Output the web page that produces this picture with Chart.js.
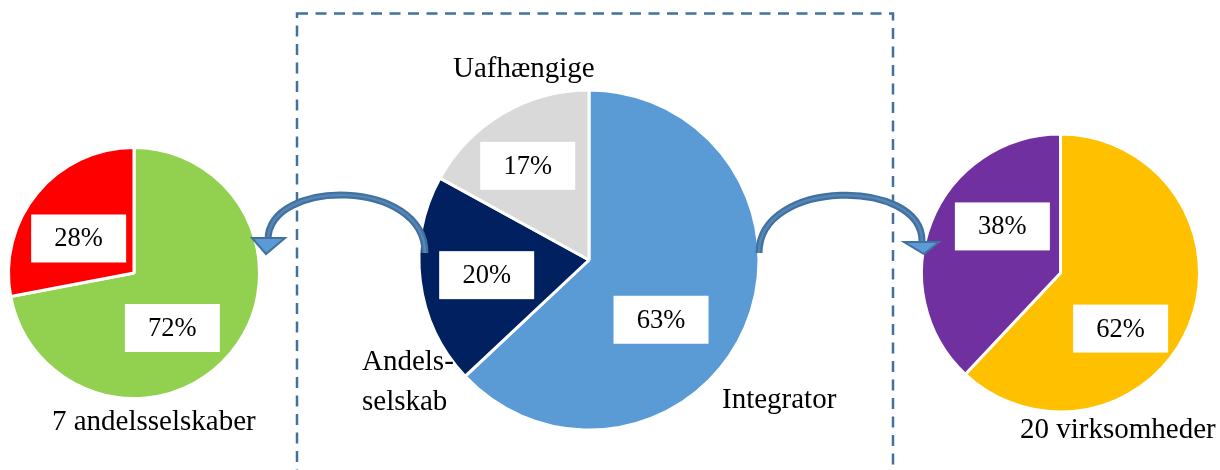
<!DOCTYPE html>
<html>
<head>
<meta charset="utf-8">
<script src="https://cdn.jsdelivr.net/npm/chart.js@4/dist/chart.umd.min.js"></script>
<style>
  html, body { margin: 0; padding: 0; background: #fff; }
  #wrap { position: relative; width: 1220px; height: 470px; overflow: hidden; }
  #wrap canvas { position: absolute; left: 0; top: 0; }
</style>
</head>
<body>
<div id="wrap">
  <canvas id="pie_left" width="1220" height="470"></canvas>
  <canvas id="pie_right" width="1220" height="470"></canvas>
  <canvas id="pie_mid" width="1220" height="470"></canvas>
</div>
<script>
// Data (percent shares)
const midLabels = ['Integrator', 'Andels-\nselskab', 'Uafhængige'];
const midValues = [63, 20, 17];
const midColors = ['#5B9BD5', '#002060', '#D9D9D9'];

const leftLabels = ['Andel 1', 'Andel 2'];
const leftValues = [72, 28];
const leftColors = ['#92D050', '#FF0000'];
const leftCaption = '7 andelsselskaber';

const rightLabels = ['Andel 1', 'Andel 2'];
const rightValues = [62, 38];
const rightColors = ['#FFC000', '#7030A0'];
const rightCaption = '20 virksomheder';

const W = 1220, H = 470;
const SERIF = '"Liberation Serif", "Times New Roman", serif';

// Percent boxes + free text for each pie
const boxLabels = {
    id: 'boxLabels',
    afterDatasetsDraw(chart, args, opts) {
        const ctx = chart.ctx;
        const meta = chart.getDatasetMeta(0);
        const values = chart.data.datasets[0].data;
        const total = values.reduce(function (a, b) { return a + b; }, 0);
        ctx.save();
        ctx.font = '26.5px ' + SERIF;
        ctx.textAlign = 'center';
        ctx.textBaseline = 'middle';
        meta.data.forEach(function (arc, i) {
            const p = arc.tooltipPosition();
            const n = opts.nudge[i] || [0, 0];
            const x = p.x + n[0], y = p.y + n[1];
            ctx.fillStyle = '#fff';
            ctx.fillRect(x - 47.5, y - 24, 95, 48);
            ctx.fillStyle = '#000';
            ctx.fillText(Math.round(values[i] / total * 100) + '%', x, y + 1);
        });
        // names
        ctx.font = '29px ' + SERIF;
        ctx.textAlign = 'left';
        ctx.textBaseline = 'alphabetic';
        (opts.texts || []).forEach(function (t) {
            t.text.split('\n').forEach(function (line, k) {
                ctx.fillText(line, t.x, t.y + k * 40);
            });
        });
        ctx.restore();
    }
};

// Dashed frame and the two curved arrows
const decorations = {
    id: 'decorations',
    beforeDatasetsDraw(chart) {
        const ctx = chart.ctx;
        ctx.save();
        ctx.strokeStyle = '#41719C';
        ctx.lineWidth = 2.5;
        ctx.setLineDash([11, 7.5]);
        ctx.strokeRect(297, 13.5, 596, 470);
        ctx.restore();
    },
    afterDatasetsDraw(chart) {
        const ctx = chart.ctx;
        function arrow(x0, x1, yTop, yEnd, head) {
            ctx.save();
            ctx.lineCap = 'butt';
            ctx.beginPath();
            ctx.moveTo(x0, 253);
            ctx.bezierCurveTo(x0, yTop, x1, yTop, x1, yEnd);
            ctx.strokeStyle = '#41719C';
            ctx.lineWidth = 7;
            ctx.stroke();
            ctx.strokeStyle = '#5586BA';
            ctx.lineWidth = 2.5;
            ctx.stroke();
            ctx.beginPath();
            ctx.moveTo(head[0], head[1]);
            ctx.lineTo(head[2], head[1]);
            ctx.lineTo(head[3], head[4]);
            ctx.closePath();
            ctx.fillStyle = '#5B9BD5';
            ctx.fill();
            ctx.strokeStyle = '#41719C';
            ctx.lineWidth = 2;
            ctx.stroke();
            ctx.restore();
        }
        arrow(425, 268, 178, 240, [252, 238, 285, 266, 254]);
        arrow(759, 922, 178, 241, [904, 242, 939, 924, 254]);
    }
};

function make_pie(id, labels, values, colors, cx, cy, r, nudge, texts, extra)
{
    const half = 100;
    return new Chart(document.getElementById(id), {
        type: 'pie',
        data: {
            labels: labels,
            datasets: [{
                data: values,
                backgroundColor: colors,
                borderColor: '#fff',
                borderWidth: 3,
            }]
        },
        options: {
            responsive: false,
            animation: false,
            radius: r + 1.5,
            layout: {
                padding: { left: cx - half, right: W - cx - half, top: cy - half, bottom: H - cy - half }
            },
            plugins: {
                legend: { display: false },
                tooltip: { enabled: false },
                boxLabels: { nudge: nudge, texts: texts },
            },
        },
        plugins: [boxLabels].concat(extra || [])
    });
}

// Left pie
make_pie('pie_left', leftLabels, leftValues, leftColors, 134, 273, 124,
    [[-10, 15], [-7, 5.5]],
    [{ text: leftCaption, x: 52, y: 430 }]);

// Right pie
make_pie('pie_right', rightLabels, rightValues, rightColors, 1060.5, 273, 137.5,
    [[-4.5, 30], [6.5, -21]],
    [{ text: rightCaption, x: 1020, y: 438 }]);

// Middle pie
make_pie('pie_mid', midLabels, midValues, midColors, 589, 260, 168.5,
    [[-6, 26], [-18, 4.5], [-18, -21]],
    [
        { text: midLabels[2], x: 453, y: 77 },
        { text: midLabels[1], x: 362, y: 370 },
        { text: midLabels[0], x: 722, y: 408 },
    ],
    [decorations]);
</script>
</body>
</html>
